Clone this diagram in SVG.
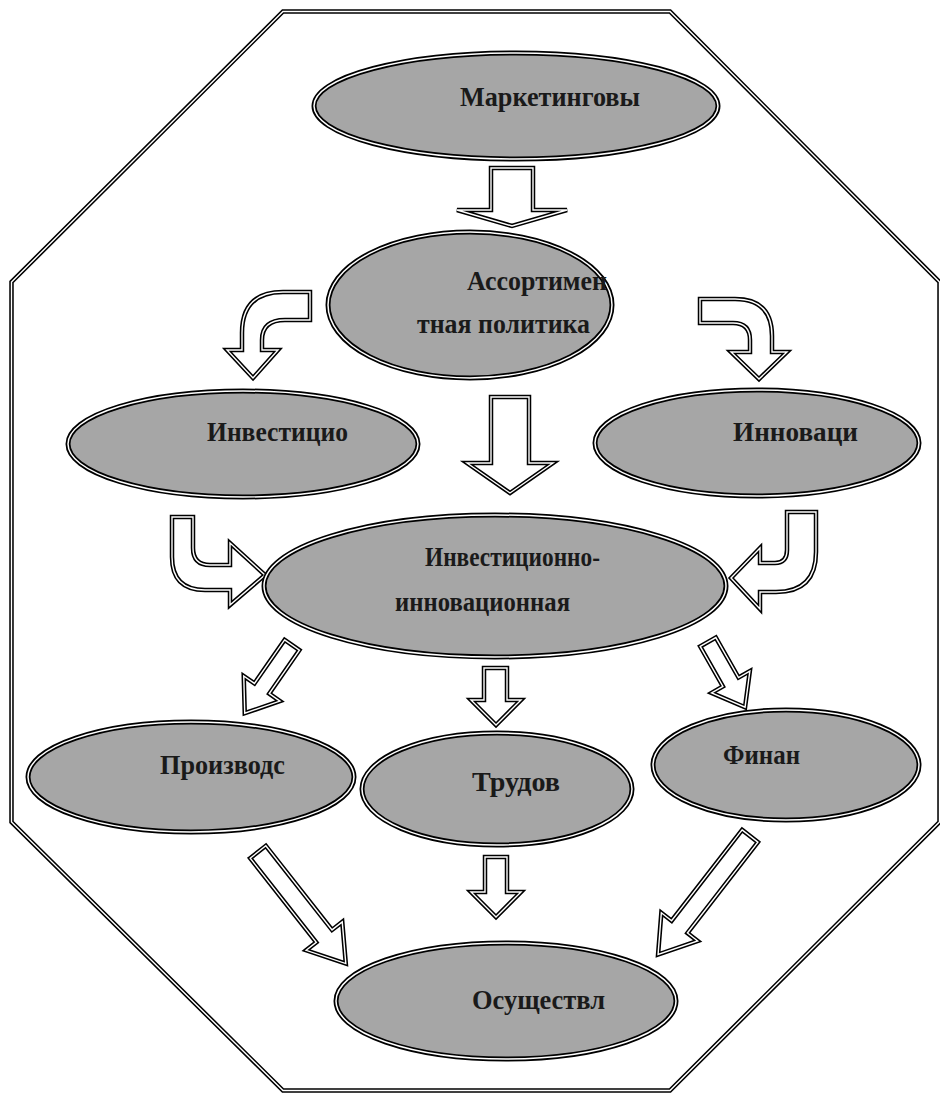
<svg xmlns="http://www.w3.org/2000/svg" width="940" height="1093" viewBox="0 0 940 1093">
<style>
.bg{fill:#fff}
.frame{fill:none;stroke:#000;stroke-width:4.5;stroke-linejoin:miter}
.framew{fill:none;stroke:#fff;stroke-width:1.4;stroke-linejoin:miter}
.ell{fill:#a6a6a6;stroke:#000;stroke-width:5}
.ellw{fill:none;stroke:#fff;stroke-width:1.5}
.arr{fill:#fff;stroke:#000;stroke-width:4.5;stroke-linejoin:miter}
.arrw{fill:none;stroke:#fff;stroke-width:1.4;stroke-linejoin:miter}
.t{font-family:"Liberation Serif","Times New Roman",serif;font-weight:bold;font-size:28px;fill:#1a1a1a}
</style>
<defs>
<path id="p1" d="M491,168 L533,168 L533,210 L567,210 L512,226 L457,210 L491,210 Z"/>
<path id="p2" d="M310,292 L283,292 Q242,292 242,333 L242,350 L227,350 L253,378 L278,350 L262,350 L262,340 Q262,320 285,320 L310,320 Z"/>
<path id="p3" d="M700,299 L735,299 Q772,299 772,336 L772,352 L787,352 L759,379 L731,352 L750,352 L750,340 Q750,323 733,323 L700,323 Z"/>
<path id="p4" d="M491,397 L529,397 L529,463 L553,463 L510,493 L467,463 L491,463 Z"/>
<path id="p5" d="M172,517 L193,517 L193,548 Q193,565 210,565 L230,565 L230,543 L265,575 L230,605 L230,590 L205,590 Q172,590 172,557 Z"/>
<path id="p6" d="M787,512 L816,512 L816,552 Q816,592 776,592 L760,592 L760,609 L731,578 L760,548 L760,563 L775,563 Q787,563 787,550 Z"/>
<path id="p7" transform="translate(292,645) rotate(34.7)" d="M-9,0 L9,0 L9,53 L22,53 L0,83 L-22,53 L-9,53 Z"/>
<path id="p8" d="M484,668 L507,668 L507,700 L521,700 L496,725 L471,700 L484,700 Z"/>
<path id="p9" transform="translate(708,642) rotate(-29.6)" d="M-9,0 L9,0 L9,46 L22,46 L0,75 L-22,46 L-9,46 Z"/>
<path id="p10" transform="translate(258,852) rotate(-38.2)" d="M-10,0 L10,0 L10,107 L23,107 L0,142 L-23,107 L-10,107 Z"/>
<path id="p11" d="M485,857 L507,857 L507,892 L521,892 L496,917 L471,892 L485,892 Z"/>
<path id="p12" transform="translate(750,836) rotate(37.8)" d="M-10,0 L10,0 L10,115 L23,115 L0,150 L-23,115 L-10,115 Z"/>
</defs>
<rect class="bg" x="0" y="0" width="940" height="1093"/>
<g id="frame">
<polygon class="frame" points="283,11.5 670,11.5 939.5,282 939.5,822 670,1090.5 283,1090.5 11.5,822 11.5,282"/>
<polygon class="framew" points="283,11.5 670,11.5 939.5,282 939.5,822 670,1090.5 283,1090.5 11.5,822 11.5,282"/>
</g>
<g id="connectors">
<g id="a1"><use href="#p1" class="arr"/><use href="#p1" class="arrw"/></g>
<g id="a2"><use href="#p2" class="arr"/><use href="#p2" class="arrw"/></g>
<g id="a3"><use href="#p3" class="arr"/><use href="#p3" class="arrw"/></g>
<g id="a4"><use href="#p4" class="arr"/><use href="#p4" class="arrw"/></g>
<g id="a5"><use href="#p5" class="arr"/><use href="#p5" class="arrw"/></g>
<g id="a6"><use href="#p6" class="arr"/><use href="#p6" class="arrw"/></g>
<g id="a7"><use href="#p7" class="arr"/><use href="#p7" class="arrw"/></g>
<g id="a8"><use href="#p8" class="arr"/><use href="#p8" class="arrw"/></g>
<g id="a9"><use href="#p9" class="arr"/><use href="#p9" class="arrw"/></g>
<g id="a10"><use href="#p10" class="arr"/><use href="#p10" class="arrw"/></g>
<g id="a11"><use href="#p11" class="arr"/><use href="#p11" class="arrw"/></g>
<g id="a12"><use href="#p12" class="arr"/><use href="#p12" class="arrw"/></g>
</g>
<g id="n1"><ellipse class="ell" cx="516" cy="106" rx="202" ry="53"/><ellipse class="ellw" cx="516" cy="106" rx="202" ry="53"/><text class="t" x="460" y="106" textLength="180" lengthAdjust="spacingAndGlyphs">Маркетинговы</text></g>
<g id="n2"><ellipse class="ell" cx="470" cy="305" rx="142" ry="73"/><ellipse class="ellw" cx="470" cy="305" rx="142" ry="73"/><text class="t" x="467" y="290" textLength="140" lengthAdjust="spacingAndGlyphs">Ассортимен</text><text class="t" x="417" y="333" textLength="173" lengthAdjust="spacingAndGlyphs">тная политика</text></g>
<g id="n3"><ellipse class="ell" cx="243" cy="444" rx="175" ry="53"/><ellipse class="ellw" cx="243" cy="444" rx="175" ry="53"/><text class="t" x="207" y="441" textLength="141" lengthAdjust="spacingAndGlyphs">Инвестицио</text></g>
<g id="n4"><ellipse class="ell" cx="757" cy="443" rx="162" ry="53"/><ellipse class="ellw" cx="757" cy="443" rx="162" ry="53"/><text class="t" x="733" y="441" textLength="125" lengthAdjust="spacingAndGlyphs">Инноваци</text></g>
<g id="n5"><ellipse class="ell" cx="495" cy="586" rx="231" ry="71"/><ellipse class="ellw" cx="495" cy="586" rx="231" ry="71"/><text class="t" x="425" y="566" textLength="175" lengthAdjust="spacingAndGlyphs">Инвестиционно-</text><text class="t" x="395" y="611" textLength="175" lengthAdjust="spacingAndGlyphs">инновационная</text></g>
<g id="n6"><ellipse class="ell" cx="191" cy="777" rx="163" ry="55"/><ellipse class="ellw" cx="191" cy="777" rx="163" ry="55"/><text class="t" x="160" y="774" textLength="125" lengthAdjust="spacingAndGlyphs">Производс</text></g>
<g id="n7"><ellipse class="ell" cx="497" cy="789" rx="135" ry="56"/><ellipse class="ellw" cx="497" cy="789" rx="135" ry="56"/><text class="t" x="472" y="791" textLength="88" lengthAdjust="spacingAndGlyphs">Трудов</text></g>
<g id="n8"><ellipse class="ell" cx="786" cy="765" rx="133" ry="55"/><ellipse class="ellw" cx="786" cy="765" rx="133" ry="55"/><text class="t" x="723" y="764" textLength="77" lengthAdjust="spacingAndGlyphs">Финан</text></g>
<g id="n9"><ellipse class="ell" cx="506" cy="1001" rx="170" ry="58"/><ellipse class="ellw" cx="506" cy="1001" rx="170" ry="58"/><text class="t" x="472" y="1009" textLength="133" lengthAdjust="spacingAndGlyphs">Осуществл</text></g>
</svg>
